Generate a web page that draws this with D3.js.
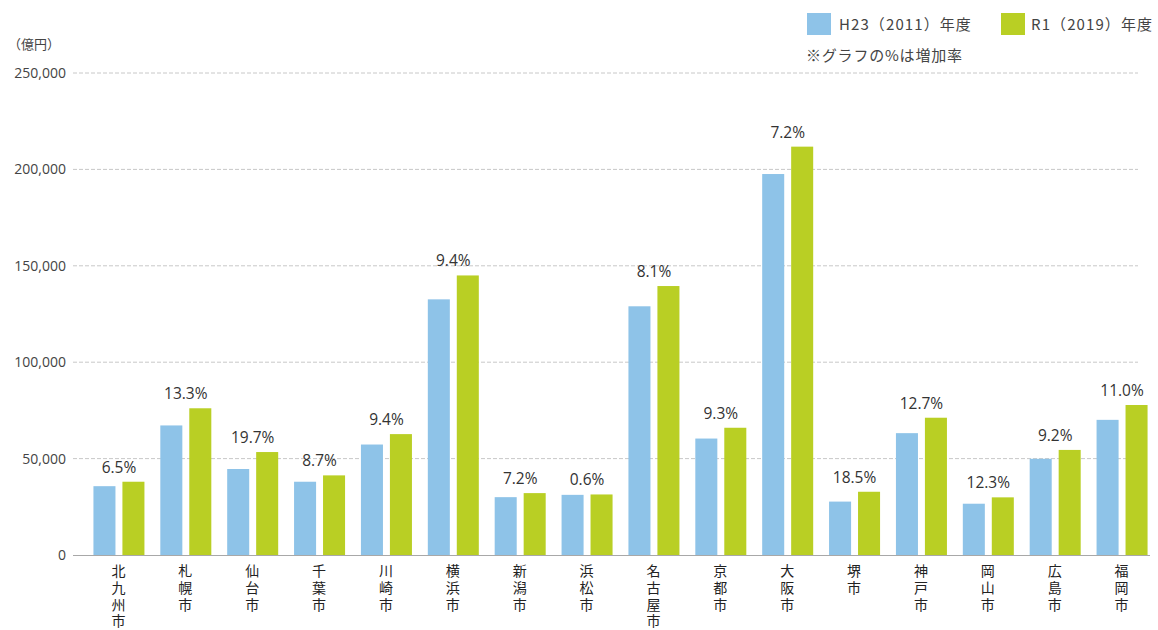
<!DOCTYPE html>
<html lang="ja">
<head>
<meta charset="utf-8">
<script src="https://cdn.jsdelivr.net/npm/d3@7"></script>
<style>
  html, body { margin: 0; padding: 0; background: #fff; }
  svg { display: block; }
  text { font-family: "Noto Sans CJK JP", "Noto Sans", sans-serif; }
  .vlabel { writing-mode: vertical-rl; text-orientation: upright; }
</style>
</head>
<body>
<svg id="chart" width="1158" height="630"></svg>
<script>
// 政令指定都市の市内総生産（億円）
const cities = ["北九州市", "札幌市", "仙台市", "千葉市", "川崎市", "横浜市", "新潟市", "浜松市",
                "名古屋市", "京都市", "大阪市", "堺市", "神戸市", "岡山市", "広島市", "福岡市"];
const values2011 = [35700, 67200, 44600, 38000, 57300, 132600, 30000, 31200,
                    129000, 60400, 197600, 27700, 63200, 26600, 49900, 70100];
const values2019 = [38000, 76100, 53400, 41300, 62700, 145000, 32100, 31400,
                    139500, 66000, 211800, 32800, 71200, 29900, 54500, 77800];
const growthLabels = ["6.5%", "13.3%", "19.7%", "8.7%", "9.4%", "9.4%", "7.2%", "0.6%",
                      "8.1%", "9.3%", "7.2%", "18.5%", "12.7%", "12.3%", "9.2%", "11.0%"];
const yTicks = [0, 50000, 100000, 150000, 200000, 250000];
const seriesNames = ["H23（2011）年度", "R1（2019）年度"];
const colors = ["#8ec3e8", "#b9cf24"];

const svg = d3.select("#chart");

const y = d3.scaleLinear().domain([0, 250000]).range([555, 73]);
const x = d3.scaleBand().domain(cities).range([84, 1154]).paddingInner(0).paddingOuter(0);
const x1 = d3.scaleBand().domain([0, 1]).range([x.bandwidth() / 2 - 24, x.bandwidth() / 2 + 27]).paddingInner(0.24);

// 目盛線
svg.append("g").selectAll("line")
  .data(yTicks.filter(d => d > 0))
  .join("line")
  .attr("x1", 73).attr("x2", 1138)
  .attr("y1", d => y(d)).attr("y2", d => y(d))
  .attr("stroke", "#c8c8c8").attr("stroke-width", 1)
  .attr("stroke-dasharray", "4,2");

// 縦軸ラベル
const yAxis = d3.axisLeft(y).tickValues(yTicks).tickSize(0).tickPadding(0)
  .tickFormat(d3.format(","));
const yg = svg.append("g").attr("transform", "translate(66,0)").call(yAxis);
yg.select(".domain").remove();
yg.selectAll("text").attr("font-size", 14).attr("fill", "#444")
  .style("font-family", "'Open Sans', 'Noto Sans', sans-serif");

svg.append("text").attr("x", 8).attr("y", 49).attr("font-size", 13).attr("fill", "#444")
  .text("（億円）");

// 棒
const groups = svg.append("g").selectAll("g")
  .data(cities)
  .join("g")
  .attr("transform", d => `translate(${x(d)},0)`);

groups.selectAll("rect")
  .data((d, i) => [values2011[i], values2019[i]])
  .join("rect")
  .attr("x", (d, j) => x1(j))
  .attr("width", x1.bandwidth())
  .attr("y", d => y(d))
  .attr("height", d => y(0) - y(d))
  .attr("fill", (d, j) => colors[j]);

// 増加率ラベル
groups.append("text")
  .attr("x", x.bandwidth() / 2 + 1.5)
  .attr("y", (d, i) => y(Math.max(values2011[i], values2019[i])) - 9)
  .attr("text-anchor", "middle")
  .attr("font-size", 15.5)
  .attr("fill", "#333")
  .style("font-family", "'Open Sans', 'Noto Sans', sans-serif")
  .text((d, i) => growthLabels[i]);

// 基準線
svg.append("line").attr("x1", 73).attr("x2", 1150)
  .attr("y1", y(0) + 0.5).attr("y2", y(0) + 0.5)
  .attr("stroke", "#a8a8a8").attr("stroke-width", 1.2);

// 横軸ラベル（縦書き）
svg.append("g").selectAll("text")
  .data(cities)
  .join("text")
  .attr("class", "vlabel")
  .attr("x", d => x(d) + x.bandwidth() / 2 + 1)
  .attr("y", 564)
  .attr("font-size", 14)
  .attr("letter-spacing", 2.7)
  .attr("fill", "#222")
  .text(d => d);

// 凡例
const legend = svg.append("g");
const legendX = [807, 1001];
const legendTextX = [839, 1031];
seriesNames.forEach((name, i) => {
  legend.append("rect").attr("x", legendX[i]).attr("y", 13).attr("width", 24).attr("height", 22)
    .attr("fill", colors[i]);
  legend.append("text").attr("x", legendTextX[i]).attr("y", 30).attr("font-size", 15)
    .attr("letter-spacing", 1.1).attr("fill", "#444").text(name);
});
legend.append("text").attr("x", 806).attr("y", 61).attr("font-size", 15)
  .attr("letter-spacing", 0.8).attr("fill", "#444").text("※グラフの%は増加率");
</script>
</body>
</html>
